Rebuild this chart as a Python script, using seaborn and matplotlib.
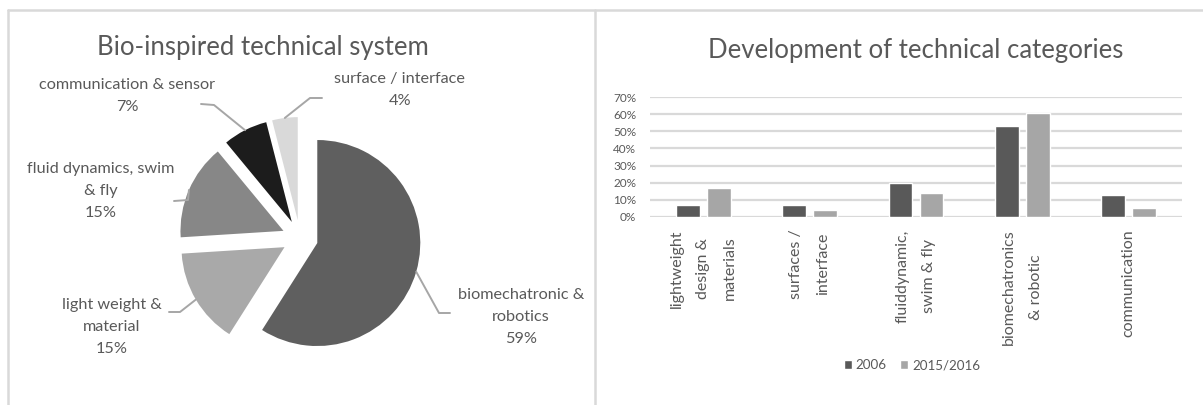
import matplotlib
matplotlib.use("Agg")
import matplotlib.pyplot as plt
from matplotlib.ticker import PercentFormatter
import numpy as np
import pandas as pd
import seaborn as sns

# ---- data ----
pie_labels = ["biomechatronic &\nrobotics", "light weight &\nmaterial",
              "fluid dynamics, swim\n& fly", "communication & sensor",
              "surface / interface"]
pie_share = [59, 15, 15, 7, 4]
pie_colors = ["#5f5f5f", "#a9a9a9", "#878787", "#1c1c1c", "#d9d9d9"]

categories = ["lightweight\ndesign &\nmaterials", "surfaces /\ninterface",
              "fluiddynamic,\nswim & fly", "biomechatronics\n& robotic",
              "communication"]
years = ["2006", "2015/2016"]
share_2006 = [7, 7, 20, 53, 13]
share_2016 = [17, 4, 14, 61, 5]

df = pd.DataFrame({
    "category": categories * 2,
    "year": [years[0]] * 5 + [years[1]] * 5,
    "share": share_2006 + share_2016,
})

sns.set_theme(style="white")
plt.rcParams["font.family"] = ["Lato", "DejaVu Sans"]
txt = "#595959"

W, H = 1203, 405
fig = plt.figure(figsize=(W / 100, H / 100), dpi=100)

# canvas axes in pixel units (y up)
ax1 = fig.add_axes([0, 0, 1, 1])
wedges, _ = ax1.pie(pie_share, colors=pie_colors, startangle=90, counterclock=False,
                    center=(300, H - 238), radius=103, explode=[18] * 5,
                    wedgeprops=dict(linewidth=0))
ax1.set_xlim(0, W)
ax1.set_ylim(0, H)
ax1.axis("off")

# panel frames
fc = "#d9d9d9"
ax1.plot([8, W], [H - 10, H - 10], color=fc, lw=1.8)
ax1.plot([8, 8], [0, H - 10], color=fc, lw=1.8)
ax1.plot([595, 595], [0, H - 10], color=fc, lw=1.8)

ax1.text(263, H - 47, "Bio-inspired technical system", ha="center", va="center",
         fontsize=18.5, color=txt)

# label positions (image px): text centre, elbow, line end
lab_pos = [(521, 317), (112, 327), (101, 191), (127, 96), (400, 90)]
elbows = [((439, 313), (450, 313)), ((180, 312), (169, 312)),
          ((188, 200), (174, 201)), ((214, 105), (201, 104)),
          ((310, 98), (322, 98))]
for w, lab, v, (tx, ty), (e1, e2) in zip(wedges, pie_labels, pie_share, lab_pos, elbows):
    tm = np.deg2rad((w.theta1 + w.theta2) / 2)
    ax_, ay_ = w.center[0] + w.r * np.cos(tm), w.center[1] + w.r * np.sin(tm)
    ax1.plot([ax_, e1[0], e2[0]], [ay_, H - e1[1], H - e2[1]], color="#a6a6a6", lw=1.4)
    ax1.text(tx, H - ty, f"{lab}\n{v}%", ha="center", va="center", fontsize=11.7,
             color=txt, linespacing=1.75)

# ---- bar chart ----
ax2 = fig.add_axes([650 / W, (H - 216.7) / H, 532 / W, (216.7 - 97.3) / H])
sns.barplot(data=df, x="category", y="share", hue="year", hue_order=years,
            palette={"2006": "#595959", "2015/2016": "#a6a6a6"},
            width=0.58, gap=0.23, ax=ax2, saturation=1)
ax2.set_ylim(0, 70)
ax2.set_yticks(range(0, 71, 10))
ax2.yaxis.set_major_formatter(PercentFormatter(100, decimals=0))
ax2.yaxis.grid(True, color="#d9d9d9", lw=1.6)
ax2.set_axisbelow(True)
for s in ax2.spines.values():
    s.set_visible(False)
ax2.tick_params(length=0, colors=txt)
ax2.tick_params(axis="y", labelsize=8.5, pad=10)
ax2.tick_params(axis="x", labelsize=11.5, pad=9)
for t in ax2.get_xticklabels():
    t.set_rotation(90)
    t.set_multialignment("center")
    t.set_linespacing(2.15)
ax2.set_xlabel("")
ax2.set_ylabel("")
ax2.set_title("Development of technical categories", fontsize=18.5, color=txt, pad=28)
ax2.legend(loc="center", bbox_to_anchor=(912 / W, 1 - 365 / H), bbox_transform=fig.transFigure,
           ncol=2, frameon=False, fontsize=9.6, labelcolor=txt, handlelength=0.6,
           handleheight=0.6, handletextpad=0.3, columnspacing=1.0)

fig.savefig("out.png", dpi=100, facecolor="white")
